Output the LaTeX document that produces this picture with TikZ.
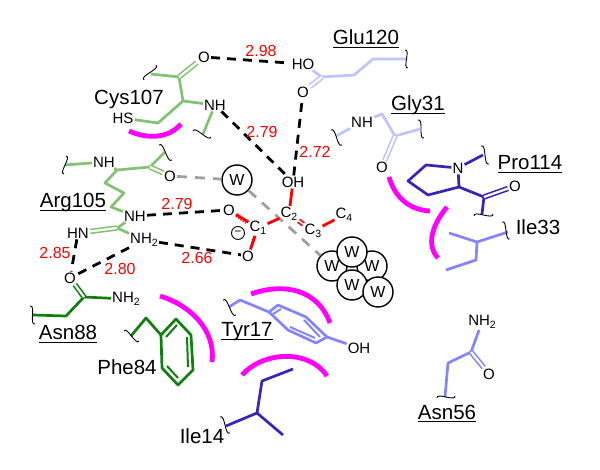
\documentclass[tikz,border=0pt]{standalone}
\usepackage{fontspec}
\setmainfont{Liberation Sans}
\usetikzlibrary{calc}
\definecolor{lgreen}{HTML}{82C272}
\definecolor{dgreen}{HTML}{0F7F0F}
\definecolor{pale}{HTML}{BEC4FF}
\definecolor{peri}{HTML}{8484FF}
\definecolor{dblue}{HTML}{3A22BE}
\definecolor{mag}{HTML}{FF00FF}
\definecolor{hgrey}{HTML}{A0A0A0}
\newcommand{\lowidx}[1]{\raisebox{-3pt}{\fontsize{10.5}{10.5}\selectfont #1}}
\newcommand{\ulab}[1]{\setbox0\hbox{#1}\rlap{\rule[-3.2pt]{\wd0}{1pt}}\box0 }
\tikzset{
  atom/.style={inner sep=1pt,font=\fontsize{15}{15}\selectfont},
  reslab/.style={inner sep=0pt,anchor=base,font=\fontsize{20.5}{20.5}\selectfont},
  dist/.style={inner sep=0pt,text=red,font=\fontsize{16}{16}\selectfont},
  bond/.style={line width=2.7pt,line join=round},
  dbl/.style={line width=1.6pt,double,double distance=2.2pt},
  wave/.style={line width=0.9pt,black,to path={.. controls ($(\tikztostart)!0.33!90:(\tikztotarget)$) and ($(\tikztotarget)!0.33!90:(\tikztostart)$) .. (\tikztotarget) \tikztonodes}},
  hb/.style={line width=2.8pt,black,dash pattern=on 9pt off 7pt},
  wb/.style={line width=2.8pt,hgrey,dash pattern=on 10pt off 8pt},
  contact/.style={line width=4.8pt,mag},
  water/.style={circle,draw,line width=1.4pt,fill=white,minimum size=30pt,inner sep=0pt,font=\fontsize{16}{16}\selectfont},
  lig/.style={line width=2.8pt,red}
}
\begin{document}
\begin{tikzpicture}[x=1pt,y=-1pt]
\useasboundingbox (0,0) rectangle (600,470);
% contact arcs
\coordinate (m1a) at (129,131); \coordinate (m1b) at (181,124);
\coordinate (m2a) at (160,296); \coordinate (m2b) at (212,362);
\coordinate (m3a) at (251,294); \coordinate (m3b) at (330,323);
\coordinate (m4a) at (242,375); \coordinate (m4b) at (327,376);
\coordinate (m5a) at (389,177); \coordinate (m5b) at (430,211);
\coordinate (m6a) at (447,207); \coordinate (m6b) at (438,258);
\draw[contact] (m1a) .. controls (147,139) and (168,139) .. (m1b);
\draw[contact] (m2a) .. controls (190,305) and (216,330) .. (m2b);
\draw[contact] (m3a) .. controls (285,282) and (318,290) .. (m3b);
\draw[contact] (m4a) .. controls (265,350) and (310,350) .. (m4b);
\draw[contact] (m5a) .. controls (395,198) and (410,210) .. (m5b);
\draw[contact] (m6a) .. controls (432,225) and (426,245) .. (m6b);

% labels
\node[reslab] (glu) at (366,45) {\ulab{Glu120}};
\node[reslab] (gly) at (418,111) {\ulab{Gly31}};
\node[reslab] (pro) at (530,170) {\ulab{Pro114}};
\node[reslab] (ile33) at (538,235) {Ile33};
\node[reslab] (asn56) at (447,419) {\ulab{Asn56}};
\node[reslab] (asn88) at (68,340) {\ulab{Asn88}};
\node[reslab] (phe) at (127,375) {Phe84};
\node[reslab] (tyr) at (247,337) {\ulab{Tyr17}};
\node[reslab] (ile14) at (202,443) {Ile14};
\node[reslab] (arg) at (73,208) {\ulab{Arg105}};
\node[reslab] (cys) at (129,105) {Cys107};

% atoms
\node[atom] (cO) at (204,57) {O};
\node[atom] (cNH) at (215,105) {NH};
\node[atom] (cSH) at (123,118) {HS};
\node[atom] (aNH) at (104,162) {NH};
\node[atom] (aO) at (170,176) {O};
\node[atom] (aNe) at (135,216) {NH};
\node[atom] (aHN) at (78,233) {HN};
\node[atom] (aNH2) at (144,240) {NH\lowidx{2}};
\node[atom] (nO) at (70,278) {O};
\node[atom] (nNH2) at (126,299) {NH\lowidx{2}};
\node[atom] (gHO) at (303,64) {HO};
\node[atom] (gO) at (303,92) {O};
\node[atom] (yNH) at (362,122) {NH};
\node[atom] (yO) at (382,167) {O};
\node[atom] (pN) at (458,168) {N};
\node[atom] (pO) at (515,186) {O};
\node[atom] (tOH) at (359,348) {OH};
\node[atom] (sNH2) at (482,322) {NH\lowidx{2}};
\node[atom] (sO) at (489,374) {O};

% Cys107
\coordinate (c1) at (179,77); \coordinate (c2) at (183,101); \coordinate (c3) at (158,123);
\coordinate (cw1) at (144,80); \coordinate (cw2) at (156,65); \coordinate (cwm) at (151,74);
\coordinate (cw3) at (193,131); \coordinate (cw4) at (211,137); \coordinate (cwn) at (203,134);
\draw[bond,lgreen] (cwm) -- (c1) -- (c2) -- (cNH);
\draw[bond,lgreen] (c2) -- (c3) -- (cSH);
\draw[bond,lgreen] (cNH) -- (cwn);
\draw[dbl,lgreen] (c1) -- (cO);
\draw[wave] (cw1) to (cw2);
\draw[wave] (cw3) to (cw4);

% Arg105
\coordinate (a1) at (117,170); \coordinate (a2) at (150,167); \coordinate (a3) at (105,183);
\coordinate (a4) at (124,193); \coordinate (a5) at (111,207); \coordinate (a6) at (117,228);
\coordinate (aw1) at (66,156); \coordinate (aw2) at (64,174); \coordinate (awm) at (65,165);
\coordinate (aw3) at (159,145); \coordinate (aw4) at (172,160); \coordinate (awc) at (165,152);
\draw[bond,lgreen] (awm) -- (aNH) -- (a1) -- (a2) -- (awc);
\draw[dbl,lgreen] (a2) -- (aO);
\draw[bond,lgreen] (a1) -- (a3) -- (a4) -- (a5) -- (aNe) -- (a6) -- (aNH2);
\draw[dbl,lgreen] (a6) -- (aHN);
\draw[wave] (aw1) to (aw2);
\draw[wave] (aw3) to (aw4);

% Asn88
\coordinate (n1) at (84,297); \coordinate (n2) at (66,316); \coordinate (n3) at (33,315);
\coordinate (nw1) at (30,306); \coordinate (nw2) at (35,324);
\draw[bond,dgreen] (n3) -- (n2) -- (n1) -- (nNH2);
\draw[dbl,dgreen] (n1) -- (nO);
\draw[wave] (nw1) to (nw2);

% Phe84
\coordinate (f0) at (131,336); \coordinate (f1) at (146,318);
\coordinate (r1) at (161,335); \coordinate (r2) at (176,319); \coordinate (r3) at (191,335);
\coordinate (r4) at (193,370); \coordinate (r5) at (178,385); \coordinate (r6) at (162,368);
\coordinate (i1) at (166,337); \coordinate (i2) at (177,325);
\coordinate (i3) at (187,337); \coordinate (i4) at (188,367);
\coordinate (i5) at (167,366); \coordinate (i6) at (178,378);
\coordinate (fw1) at (124,331); \coordinate (fw2) at (139,341);
\draw[bond,dgreen] (f0) -- (f1) -- (r1);
\draw[bond,dgreen] (r1) -- (r2) -- (r3) -- (r4) -- (r5) -- (r6) -- cycle;
\draw[bond,dgreen,line width=2pt] (i1) -- (i2) (i3) -- (i4) (i5) -- (i6);
\draw[wave] (fw1) to (fw2);

% Glu120
\coordinate (g1) at (322,77); \coordinate (g2) at (354,75); \coordinate (g3) at (373,59); \coordinate (g4) at (406,59);
\coordinate (gw1) at (405,50); \coordinate (gw2) at (408,68);
\draw[bond,pale] (gHO) -- (g1) -- (g2) -- (g3) -- (g4);
\draw[dbl,pale] (g1) -- (gO);
\draw[wave] (gw1) to (gw2);

% Gly31
\coordinate (y1) at (382,114); \coordinate (y2) at (395,136); \coordinate (y3) at (420,129); \coordinate (y4) at (336,136);
\coordinate (yw1) at (331,130); \coordinate (yw2) at (342,145);
\coordinate (yw3) at (418,120); \coordinate (yw4) at (424,138);
\draw[bond,pale] (y4) -- (yNH) -- (y1) -- (y2) -- (y3);
\draw[dbl,pale] (y2) -- (yO);
\draw[wave] (yw1) to (yw2);
\draw[wave] (yw3) to (yw4);

% Pro114
\coordinate (p1) at (426,165); \coordinate (p2) at (408,181); \coordinate (p3) at (428,195);
\coordinate (p4) at (459,187); \coordinate (p5) at (484,197); \coordinate (p6) at (482,214); \coordinate (p7) at (483,155);
\coordinate (pw1) at (481,146); \coordinate (pw2) at (489,164);
\coordinate (pw3) at (474,216); \coordinate (pw4) at (493,214);
\draw[bond,dblue] (pN) -- (p1) -- (p2) -- (p3) -- (p4) -- (pN);
\draw[bond,dblue] (pN) -- (p7);
\draw[bond,dblue] (p4) -- (p5) -- (p6);
\draw[dbl,dblue] (p5) -- (pO);
\draw[wave] (pw1) to (pw2);
\draw[wave] (pw3) to (pw4);

% Ile33
\coordinate (j1) at (449,233); \coordinate (j2) at (477,242); \coordinate (j3) at (508,232);
\coordinate (j4) at (476,260); \coordinate (j5) at (446,270);
\coordinate (jw1) at (502,222); \coordinate (jw2) at (510,239);
\draw[bond,peri] (j1) -- (j2) -- (j3) (j2) -- (j4) -- (j5);
\draw[wave] (jw1) to (jw2);

% Tyr17
\coordinate (t0) at (229,307); \coordinate (t1) at (240,300); \coordinate (t2) at (269,312);
\coordinate (t3) at (278,305); \coordinate (t4) at (306,317); \coordinate (t5) at (327,337);
\coordinate (t6) at (316,343); \coordinate (t7) at (288,330);
\coordinate (t8) at (273,314); \coordinate (t9) at (281,309);
\coordinate (t10) at (304,320); \coordinate (t11) at (320,337);
\coordinate (t12) at (290,327); \coordinate (t13) at (315,338);
\coordinate (tw1) at (223,300); \coordinate (tw2) at (236,315);
\draw[bond,peri] (t0) -- (t1) -- (t2) -- (t3) -- (t4) -- (t5) -- (t6) -- (t7) -- (t2);
\draw[bond,peri,line width=2pt] (t8) -- (t9) (t10) -- (t11) (t12) -- (t13);
\draw[bond,peri] (t5) -- (tOH);
\draw[wave] (tw1) to (tw2);

% Ile14
\coordinate (k1) at (226,426); \coordinate (k2) at (257,413); \coordinate (k3) at (262,381);
\coordinate (k4) at (293,369); \coordinate (k5) at (283,435);
\coordinate (kw1) at (220,417); \coordinate (kw2) at (230,433);
\draw[bond,dblue] (k1) -- (k2) -- (k3) -- (k4) (k2) -- (k5);
\draw[wave] (kw1) to (kw2);

% Asn56
\coordinate (s1) at (471,352); \coordinate (s2) at (448,363); \coordinate (s3) at (445,397);
\coordinate (sw1) at (437,398); \coordinate (sw2) at (455,396);
\draw[bond,peri] (sNH2) -- (s1) -- (s2) -- (s3);
\draw[dbl,peri] (s1) -- (sO);
\draw[wave] (sw1) to (sw2);

% waters
\node[water] (w0) at (237,180) {W};
\node[water] (w1) at (332,266) {W};
\node[water] (w2) at (372,266) {W};
\node[water] (w3) at (352,285) {W};
\node[water] (w4) at (352,252) {W};
\node[water] (w5) at (378,292) {W};

% ligand atoms
\node[atom] (lOH) at (293,182) {OH};
\node[atom] (lO1) at (229,210) {O};
\node[atom] (lO2) at (248,256) {O};
\node[atom] (C1) at (258,228) {C\lowidx{1}};
\node[atom] (C2) at (289,214) {C\lowidx{2}};
\node[atom] (C3) at (313,231) {C\lowidx{3}};
\node[atom] (C4) at (344,215) {C\lowidx{4}};
\node[circle,draw,line width=0.9pt,inner sep=0pt,minimum size=13pt,font=\fontsize{12}{12}\selectfont] (neg) at (238,233) {−};

% grey water contacts
\draw[wb] (aO) -- (w0);
\draw[wb] (w0) -- (w1);

% ligand bonds
\coordinate (d1) at (236,216); \coordinate (d2) at (246,223);
\coordinate (d3) at (254,236); \coordinate (d4) at (251,247);
\draw[lig] (lOH) -- (C2);
\draw[lig] (C1) -- (C2);
\draw[lig] (C3) -- (C4);
\draw[line width=1.7pt,red,double,double distance=1.7pt] (C2) -- (C3);
\draw[lig] (lO1) -- (C1);
\draw[lig] (C1) -- (lO2);
\draw[red,line width=2pt,dash pattern=on 1.3pt off 1.5pt] (d1) -- (d2);
\draw[red,line width=2pt,dash pattern=on 1.3pt off 1.5pt] (d3) -- (d4);

% hydrogen bonds
\draw[hb] (cO) -- (gHO);
\draw[hb] (cNH) -- (lOH);
\draw[hb] (lOH) -- (gO);
\draw[hb] (aNe) -- (lO1);
\draw[hb] (aNH2) -- (lO2);
\draw[hb] (aHN) -- (nO);
\draw[hb] (aNH2) -- (nO);

% distances
\node[dist] (d298) at (261,51) {2.98};
\node[dist] (d279a) at (262,132) {2.79};
\node[dist] (d272) at (315,152) {2.72};
\node[dist] (d279b) at (177,204) {2.79};
\node[dist] (d266) at (197,258) {2.66};
\node[dist] (d285) at (55,253) {2.85};
\node[dist] (d280) at (120,269) {2.80};
\end{tikzpicture}
\end{document}
